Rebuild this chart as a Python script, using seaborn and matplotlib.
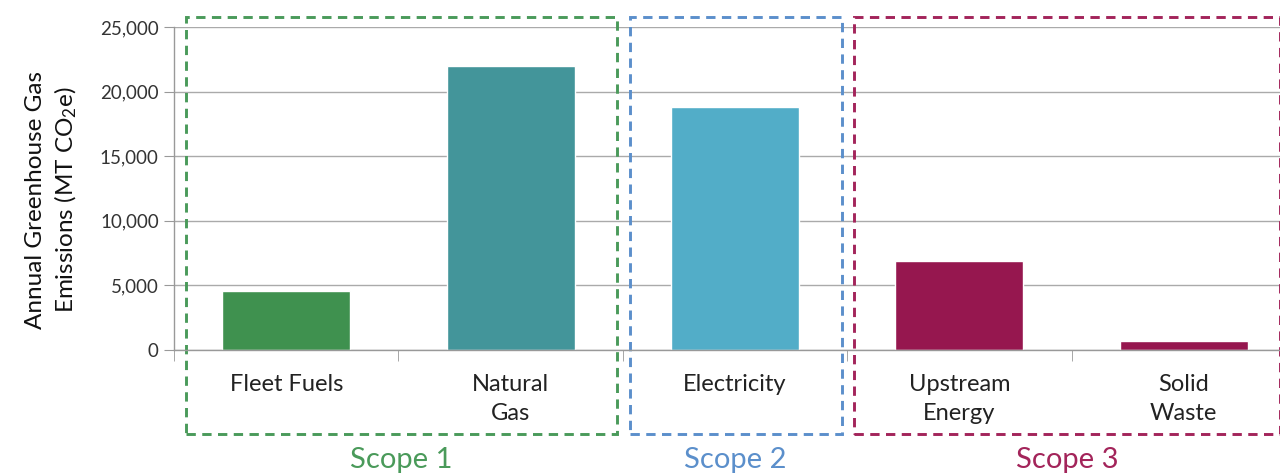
import matplotlib
matplotlib.use('Agg')
import matplotlib.pyplot as plt
import matplotlib.transforms as mtransforms
from matplotlib.patches import Rectangle
from matplotlib.ticker import FuncFormatter, FixedLocator
import seaborn as sns

# Daten
categories = ['Fleet Fuels', 'Natural\nGas', 'Electricity', 'Upstream\nEnergy', 'Solid\nWaste']
emissions = [4600, 22000, 18800, 6900, 700]
bar_colors = ['#3f914f', '#43959a', '#52adc8', '#96174f', '#96174f']

# Scopes: Name, erste Kategorie, letzte Kategorie, Farbe
scope_names = ['Scope 1', 'Scope 2', 'Scope 3']
scope_first = [0, 2, 3]
scope_last = [1, 2, 4]
scope_colors = ['#4a9a5a', '#5b8fcb', '#a3245a']

sns.set_style('white')
plt.rcParams['font.family'] = ['Lato', 'DejaVu Sans']
plt.rcParams['mathtext.fontset'] = 'custom'
plt.rcParams['mathtext.rm'] = 'Lato'
plt.rcParams['mathtext.it'] = 'Lato'

fig = plt.figure(figsize=(12.8, 4.75), dpi=100)
ax = fig.add_axes([174 / 1280, 1 - 350 / 475, 1122 / 1280, 323 / 475])

sns.barplot(x=categories, y=emissions, hue=categories, palette=bar_colors,
            legend=False, width=0.57, saturation=1, ax=ax)

ax.set_ylim(0, 25000)
ax.set_xlim(-0.5, len(categories) - 0.5)
ax.set_yticks(range(0, 25001, 5000))
ax.yaxis.set_major_formatter(FuncFormatter(lambda v, p: f'{int(v):,}'))
ax.grid(axis='y', color='#aaaaaa', linewidth=1)
ax.set_axisbelow(True)

for s in ['top', 'right']:
    ax.spines[s].set_visible(False)
for s in ['left', 'bottom']:
    ax.spines[s].set_color('#999999')
    ax.spines[s].set_linewidth(1)

ax.tick_params(axis='y', direction='out', length=7, color='#999999',
               labelsize=13.5, labelcolor='#333333', left=True, pad=4)
ax.tick_params(axis='x', which='major', length=0, pad=17,
               labelsize=17, labelcolor='#222222')
ax.xaxis.set_minor_locator(FixedLocator([i - 0.5 for i in range(len(categories) + 1)]))
ax.tick_params(axis='x', which='minor', direction='out', length=8,
               color='#999999', bottom=True)
for lbl in ax.get_xticklabels():
    lbl.set_linespacing(1.5)
    lbl.set_verticalalignment('top')

ax.set_xlabel('')
ax.set_ylabel('')
fig.text(52 / 1280, 1 - 200 / 475, 'Annual Greenhouse Gas\nEmissions (MT CO$_2$e)',
         rotation=90, ha='center', va='center', fontsize=17.5,
         color='#111111', linespacing=1.3)

# gestrichelte Rahmen um die Scopes
trans = mtransforms.blended_transform_factory(ax.transData, ax.transAxes)
for i, (name, first, last, col) in enumerate(zip(scope_names, scope_first, scope_last, scope_colors)):
    x0 = first - (0.446 if first == 0 else 0.47)
    x1 = last + (0.43 if last == len(categories) - 1 else 0.475)
    rect = Rectangle((x0, -0.26), x1 - x0, 1.29, transform=trans, fill=False,
                     edgecolor=col, linewidth=2.1, linestyle=(0, (3.2, 2.2)), clip_on=False)
    ax.add_patch(rect)
    ax.text((x0 + x1) / 2, -0.34, name, transform=trans, ha='center', va='center',
            fontsize=21, color=col)

fig.savefig('out.png', dpi=100)
